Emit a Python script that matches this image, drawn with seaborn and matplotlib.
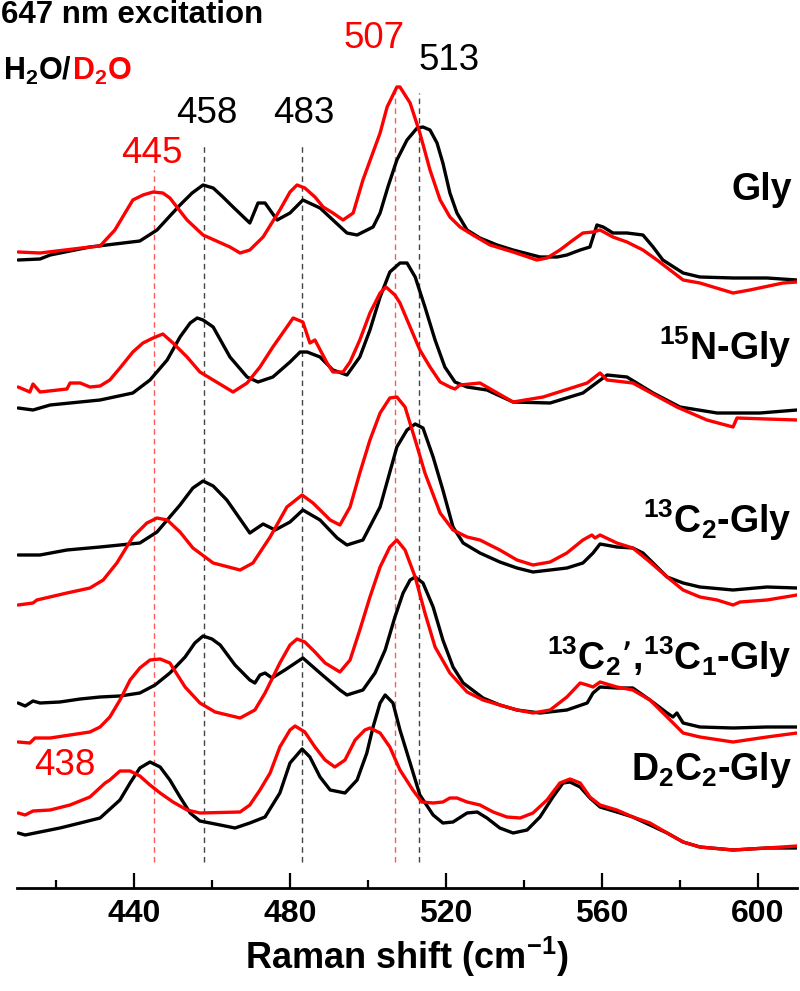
import matplotlib
matplotlib.use("Agg")
import matplotlib.pyplot as plt
import pandas as pd
import seaborn as sns

sns.set_theme(style="white")
plt.rcParams['font.family'] = ['Liberation Sans', 'DejaVu Sans']
plt.rcParams['mathtext.default'] = 'regular'
plt.rcParams['text.color'] = 'black'
plt.rcParams['axes.labelcolor'] = 'black'
plt.rcParams['xtick.color'] = 'black'

# ---------------- data: (Raman shift cm-1, stacked intensity a.u.) ----------------
GLY_H2O = [(410.3, 650), (415.9, 651), (418.5, 655), (428.7, 663), (441.5, 669), (445.9, 680),
           (451.8, 705), (454.9, 717), (457.7, 725), (460.3, 722), (462.8, 713), (465.4, 703),
           (469.7, 687), (471.8, 707), (473.6, 707),
           (476.7, 690), (480.0, 697), (483.3, 710), (487.7, 702), (494.6, 677), (497.2, 675),
           (501.3, 683), (503.1, 697), (505.1, 723), (507.4, 750), (510.0, 770), (512.6, 782),
           (514.1, 783), (515.9, 780), (517.7, 767), (519.2, 747), (521.0, 717), (522.8, 697),
           (525.4, 680), (528.7, 672), (533.1, 665), (537.2, 660), (544.1, 653), (548.5, 653),
           (551.0, 655), (554.4, 660), (556.9, 663), (558.7, 685), (560.3, 683), (562.8, 677),
           (566.4, 677), (570.5, 675), (573.1, 663), (575.6, 650), (580.8, 637), (585.1, 633),
           (593.6, 632), (602.3, 632), (610.0, 630)]
GLY_D2O = [(410.3, 658), (415.9, 657), (428.7, 663), (431.3, 664), (435.1, 680),
           (439.7, 710), (442.3, 715), (444.9, 718), (447.4, 717), (449.2, 712), (451.0, 703),
           (453.6, 690), (457.7, 675), (464.6, 663), (467.2, 657), (469.7, 660), (473.1, 673),
           (477.4, 700), (480.0, 718), (481.8, 725), (483.8, 722), (486.4, 713), (488.5, 703),
           (491.0, 697), (493.6, 690), (496.2, 697), (498.7, 730), (503.1, 777), (504.9, 803),
           (507.4, 823), (508.2, 823), (510.8, 807), (513.3, 777), (515.9, 740), (518.5, 710),
           (521.0, 693), (523.6, 683), (526.9, 675), (531.3, 665), (537.2, 658), (543.3, 650),
           (545.9, 652), (549.2, 660), (552.6, 670), (555.1, 677), (557.7, 678), (559.5, 680),
           (562.8, 673), (566.4, 668), (570.5, 660), (574.1, 650), (580.8, 630), (585.1, 627),
           (593.6, 617), (597.9, 620), (606.4, 627), (610.0, 628)]
N15_H2O = [(410.3, 502), (414.1, 500), (418.5, 505), (431.3, 510), (439.7, 517), (444.1, 530),
           (448.5, 550), (451.8, 573), (454.4, 587), (456.2, 592), (457.7, 590), (460.3, 583),
           (464.6, 553), (469.0, 533), (471.8, 528), (475.6, 533), (480.0, 548), (482.6, 558),
           (484.4, 558), (487.7, 553), (491.0, 540), (494.6, 535), (497.9, 553), (500.5, 580),
           (503.1, 613), (505.6, 638), (508.2, 647), (510.0, 647), (512.1, 633), (514.6, 603),
           (517.2, 570), (519.7, 543), (522.3, 528), (525.4, 523), (530.5, 520), (537.2, 508),
           (546.7, 507), (555.1, 517), (561.3, 535), (566.4, 533), (573.1, 517), (580.0, 503),
           (589.5, 497), (600.5, 497), (610.0, 500)]
N15_D2O = [(410.3, 523), (413.3, 518), (414.1, 526), (415.9, 518), (422.8, 521), (423.6, 527),
           (426.2, 527), (428.7, 523), (431.3, 524), (433.8, 530), (436.4, 542), (439.7, 558),
           (442.3, 567), (444.9, 572), (447.4, 576), (450.0, 567), (453.6, 553), (456.9, 538),
           (460.3, 530), (465.4, 518), (469.0, 527), (472.3, 543), (475.6, 563), (479.2, 583),
           (480.8, 592), (483.3, 588), (485.1, 567), (486.4, 570), (489.5, 547), (491.0, 538),
           (493.6, 538), (495.4, 548), (497.9, 570), (500.5, 597), (503.1, 617), (504.6, 623),
           (506.9, 615), (508.2, 607), (510.8, 583), (513.3, 560), (515.9, 543), (518.5, 528),
           (521.0, 523), (522.3, 521), (523.6, 525), (528.7, 527), (537.2, 508), (544.9, 513),
           (556.2, 527), (559.5, 537), (561.3, 530), (567.9, 527), (579.2, 503), (586.9, 490),
           (593.6, 483), (594.6, 492), (610.0, 490)]
C13_H2O = [(410.3, 355), (415.9, 355), (422.8, 360), (431.3, 363), (441.5, 367), (445.9, 378),
           (451.8, 405), (455.1, 422), (457.7, 429), (460.3, 424), (463.8, 410), (469.7, 377),
           (473.1, 386), (476.2, 380), (480.0, 388), (483.3, 400), (487.7, 390), (492.1, 372),
           (494.6, 365), (498.7, 370), (503.1, 403), (507.4, 463), (510.0, 480), (512.1, 486),
           (514.1, 482), (516.7, 453), (519.2, 420), (521.8, 383), (524.4, 367), (528.7, 357),
           (533.8, 348), (538.2, 342), (542.3, 338), (546.7, 340), (551.0, 342), (555.1, 347),
           (557.7, 357), (559.5, 366), (563.8, 363), (567.9, 362), (570.5, 357), (573.1, 347),
           (576.7, 333), (580.8, 327), (585.1, 323), (593.6, 320), (602.3, 323), (610.0, 322)]
C13_D2O = [(410.3, 305), (414.1, 307), (415.1, 310), (422.8, 317), (428.7, 322), (432.1, 330),
           (435.6, 347), (439.7, 373), (443.3, 387), (445.9, 392), (448.5, 390), (451.8, 378),
           (455.1, 362), (460.3, 347), (467.2, 340), (470.5, 347), (474.9, 373), (479.2, 403),
           (483.1, 415), (485.9, 407), (490.3, 390), (492.8, 385), (495.4, 403), (497.9, 437),
           (500.5, 470), (503.1, 497), (505.6, 512), (507.4, 513), (509.5, 503), (512.1, 470),
           (514.6, 437), (518.5, 397), (521.8, 380), (525.4, 373), (528.7, 370), (533.8, 360),
           (538.2, 350), (542.3, 345), (546.7, 348), (551.0, 357), (555.1, 370), (557.4, 375),
           (558.2, 372), (559.5, 375), (563.8, 367), (567.9, 362), (572.3, 348), (576.7, 333),
           (580.8, 320), (585.1, 313), (589.5, 310), (593.6, 305), (595.4, 308), (602.3, 310),
           (610.0, 315)]
CC_H2O = [(410.3, 207), (412.1, 204), (414.1, 209), (415.9, 207), (421.0, 208), (426.2, 211),
          (431.3, 213), (436.4, 214), (441.5, 217), (445.4, 225), (449.2, 237), (453.1, 253),
          (455.6, 267), (457.7, 274), (460.0, 271), (462.1, 265), (465.9, 245), (469.7, 230),
          (471.0, 227), (472.3, 235), (473.6, 237), (475.4, 232), (478.7, 240), (483.3, 252),
          (487.7, 237), (492.8, 220), (494.6, 215), (498.7, 220), (501.8, 237), (504.4, 260),
          (506.9, 293), (509.0, 317), (510.8, 330), (512.1, 333), (514.1, 327), (516.7, 303),
          (519.2, 270), (521.8, 243), (524.4, 227), (529.5, 212), (533.8, 205), (538.2, 200),
          (544.1, 197), (551.0, 200), (556.2, 207), (557.7, 217), (559.5, 223), (563.8, 222),
          (567.9, 222), (572.3, 210), (576.7, 197), (578.2, 193), (579.2, 197), (580.8, 187),
          (585.1, 183), (593.6, 182), (602.3, 183), (610.0, 183)]
CC_D2O = [(410.3, 168), (413.3, 167), (414.6, 172), (418.5, 172), (423.6, 175), (428.7, 178),
          (431.3, 183), (433.8, 193), (436.4, 210), (439.0, 230), (441.5, 242), (444.1, 250),
          (446.7, 251), (449.2, 247), (453.1, 223), (456.9, 207), (460.8, 198), (467.2, 192),
          (471.0, 200), (473.6, 217), (477.4, 247), (480.0, 265), (481.8, 271), (483.8, 268),
          (486.4, 258), (489.0, 247), (492.8, 238), (495.4, 250), (497.9, 280), (500.5, 313),
          (503.1, 343), (505.6, 363), (507.4, 370), (509.5, 360), (512.1, 333), (514.6, 297),
          (517.2, 263), (521.0, 237), (525.4, 218), (529.5, 210), (533.8, 205), (538.2, 200),
          (542.3, 197), (546.7, 200), (551.0, 213), (554.4, 227), (556.2, 225), (557.7, 223),
          (559.5, 228), (563.8, 223), (567.9, 220), (572.3, 210), (576.7, 193), (580.8, 177),
          (585.1, 173), (593.6, 168), (602.3, 173), (610.0, 177)]
D2_H2O = [(410.3, 77), (412.1, 75), (415.9, 78), (421.0, 82), (426.2, 87), (431.3, 92),
          (436.4, 110), (439.0, 127), (441.5, 142), (444.1, 148), (446.7, 143), (449.2, 130),
          (451.8, 113), (454.4, 97), (456.9, 89), (462.1, 85), (465.9, 82), (469.7, 87),
          (473.6, 93), (477.4, 117), (480.0, 147), (483.1, 161), (485.1, 153), (487.7, 133),
          (490.3, 120), (494.1, 117), (497.2, 130), (499.7, 157), (501.3, 183), (503.1, 207),
          (504.4, 215), (506.4, 207), (508.2, 180), (510.8, 147), (513.3, 115), (516.7, 95),
          (519.2, 87), (521.8, 88), (525.4, 97), (528.0, 98), (530.5, 92), (533.8, 82),
          (537.2, 77), (540.8, 80), (544.1, 93), (547.4, 113), (550.0, 127), (551.8, 128),
          (554.4, 123), (556.9, 112), (559.5, 103), (563.8, 98), (567.9, 93), (572.3, 85),
          (576.7, 77), (580.8, 68), (585.1, 63), (593.6, 60), (602.3, 62), (610.0, 62)]
D2_D2O = [(410.3, 97), (412.1, 95), (414.1, 99), (418.5, 100), (423.6, 105), (428.7, 113),
          (432.6, 127), (433.8, 130), (436.4, 139), (439.0, 139), (441.5, 134), (444.1, 125),
          (446.7, 117), (450.0, 108), (453.6, 100), (456.9, 97), (467.2, 98), (469.7, 105),
          (472.3, 120), (474.9, 137), (477.4, 163), (480.0, 180), (481.3, 184), (483.8, 178),
          (486.4, 163), (489.0, 150), (491.5, 143), (494.1, 150), (496.7, 170), (499.2, 180),
          (500.5, 182), (503.1, 177), (505.6, 163), (508.2, 140), (511.5, 120), (513.8, 108),
          (516.7, 107), (519.2, 108), (521.0, 112), (522.8, 112), (525.4, 108), (528.7, 105),
          (532.1, 98), (535.6, 93), (539.0, 92), (542.3, 97), (545.9, 110), (549.2, 127),
          (551.8, 131), (554.4, 127), (556.9, 113), (559.5, 105), (563.8, 100), (567.9, 93),
          (572.3, 87), (576.7, 77), (580.8, 68), (585.1, 63), (593.6, 60), (602.3, 62),
          (610.0, 64)]

SAMPLES = ["Gly", "15N-Gly", "13C2-Gly", "13C2,13C1-Gly", "D2C2-Gly"]
SAMPLE_LABELS = ["Gly", "$^{15}$N-Gly", "$^{13}$C$_2$-Gly",
                 "$^{13}$C$_2$\u2019,$^{13}$C$_1$-Gly", "D$_2$C$_2$-Gly"]
TRACES = {"Gly": (GLY_H2O, GLY_D2O), "15N-Gly": (N15_H2O, N15_D2O),
          "13C2-Gly": (C13_H2O, C13_D2O), "13C2,13C1-Gly": (CC_H2O, CC_D2O),
          "D2C2-Gly": (D2_H2O, D2_D2O)}
SOLVENTS = ["H2O", "D2O"]

PEAK_POS = [445, 458, 483, 507, 513]
PEAK_SOLVENT = ["D2O", "H2O", "H2O", "D2O", "H2O"]
EXTRA_LABEL = 438  # D2C2-Gly in D2O

rows = []
for s in SAMPLES:
    for solv, trace in zip(SOLVENTS, TRACES[s]):
        for x, y in trace:
            rows.append({"sample": s, "solvent": solv, "shift": x, "intensity": y})
df = pd.DataFrame(rows)

# ---------------- figure ----------------
W, H = 800, 991
fig = plt.figure(figsize=(W / 100, H / 100), dpi=100)
ax = fig.add_axes([17 / W, (H - 888) / H, 780 / W, 888 / H])

palette = {"H2O": "black", "D2O": "#ff0000"}
for s in SAMPLES:
    sub = df[df["sample"] == s]
    sns.lineplot(data=sub, x="shift", y="intensity", hue="solvent", hue_order=SOLVENTS,
                 palette=palette, estimator=None, sort=False, legend=False,
                 linewidth=2.4, ax=ax)
for ln in ax.get_lines():
    ln.set_solid_joinstyle("round")
    ln.set_solid_capstyle("round")

# dashed reference lines
line_top = {445: 740, 458: 765, 483: 765, 507: 820, 513: 817}
dash_col = {"H2O": "#444444", "D2O": "#ff5a5a"}
for p, sv in zip(PEAK_POS, PEAK_SOLVENT):
    ax.plot([p, p], [48, line_top[p]], ls=(0, (4, 3)), lw=1.0, color=dash_col[sv], zorder=0)

# peak labels
lab_pos = {445: (444.6, 747), 458: (458.7, 787), 483: (483.6, 787),
           507: (501.5, 862), 513: (520.8, 840)}
txt_col = {"H2O": "black", "D2O": "#ff0000"}
for p, sv in zip(PEAK_POS, PEAK_SOLVENT):
    x, y = lab_pos[p]
    ax.text(x, y, str(p), ha="center", va="baseline", fontsize=26.5, color=txt_col[sv])
ax.text(422.3, 135, str(EXTRA_LABEL), ha="center", va="baseline", fontsize=26.5, color="#ff0000")

# sample labels
lab_y = [710, 550, 377, 240, 130]
for lab, y in zip(SAMPLE_LABELS, lab_y):
    ax.text(608.7, y, lab, ha="right", va="baseline", fontsize=27, fontweight="bold")

ax.set_xlim(410, 610)
ax.set_ylim(22, 910)
ax.set_yticks([])
ax.set_ylabel("")
ax.set_xticks([440, 480, 520, 560, 600])
ax.set_xticks([420, 460, 500, 540, 580], minor=True)
ax.tick_params(axis="x", which="major", direction="in", length=11, width=1.6,
               labelsize=23, pad=8, bottom=True)
ax.tick_params(axis="x", which="minor", direction="in", length=6, width=1.6, bottom=True)
for lbl in ax.get_xticklabels():
    lbl.set_fontweight("bold")
ax.set_xlabel("Raman shift (cm$^{-1}$)", fontsize=26, fontweight="bold", labelpad=4)
for sp in ["left", "right", "top"]:
    ax.spines[sp].set_visible(False)
ax.spines["bottom"].set_linewidth(2.0)
ax.spines["bottom"].set_color("black")
ax.patch.set_alpha(0)

# header texts
fig.text(1 / W, (H - 23) / H, "647 nm excitation", fontsize=22.5, fontweight="bold",
         ha="left", va="baseline")
t1 = fig.text(3 / W, (H - 80) / H, "H$_2$O/", fontsize=22, fontweight="bold",
              ha="left", va="baseline", color="black")
fig.canvas.draw()
bb = t1.get_window_extent()
fig.text(bb.x1 / fig.bbox.width, (H - 80) / H, "D$_2$O", fontsize=22, fontweight="bold",
         ha="left", va="baseline", color="#ff0000")

fig.savefig("out.png", dpi=100)
